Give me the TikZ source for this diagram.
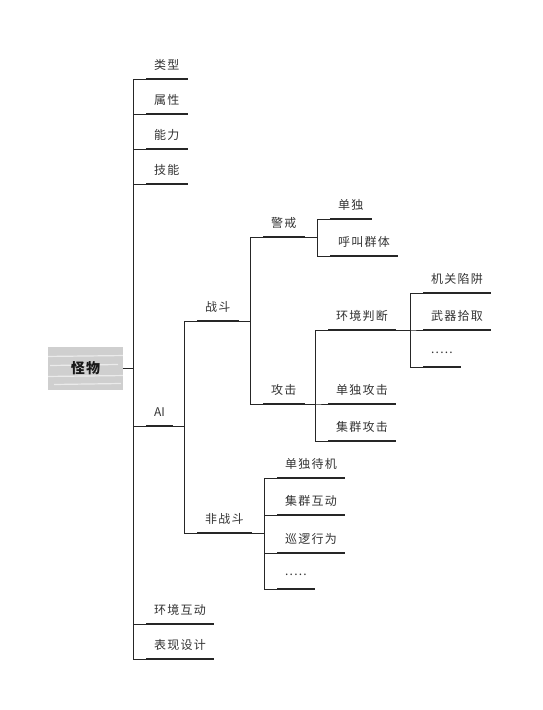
\documentclass[tikz,border=0pt]{standalone}
\usepackage{fontspec}
\newfontfamily\cjk[LetterSpace=10]{Noto Sans CJK SC}
\newfontfamily\cjkplain{Noto Sans CJK SC}
\newfontfamily\cjkroot[LetterSpace=8]{Noto Sans CJK SC}
\newcommand\moredots{.....}
\newcommand\ailabel{{\cjkplain AI}}

\tikzset{
  topic/.style={anchor=south west, minimum height=27pt, inner xsep=8pt, inner ysep=0pt,
    font=\cjk\fontsize{12}{14}\selectfont, text=black!80},
  root/.style={minimum width=75pt, minimum height=43pt, fill=black!19,
    font=\cjkroot\bfseries\fontsize{14}{16}\selectfont, text=black!90,
    path picture={
      \foreach \o/\l/\r in {-16/6/-2, -8/-3/4, 3/2/-5, 12/-4/3}
        \draw[white, opacity=0.6, line width=1.2pt] ([xshift=\l pt, yshift=\o pt]path picture bounding box.west) -- ([xshift=\r pt, yshift=\o pt+1pt]path picture bounding box.east);
    }},
  branch/.style={draw=black!85, line width=0.75pt},
  underline/.style={draw=black!85, line width=1.2pt}
}

\begin{document}
\begin{tikzpicture}[x=1pt, y=-1pt]
\useasboundingbox (0,0) rectangle (542,710);

% central topic
\node[root] (root) at (85.5,368.5) {怪物};

% main branches
\foreach \n/\t/\y in {type/类型/79, attr/属性/114, abil/能力/149, skill/技能/184,
                      ai/\ailabel/426, env/环境互动/624, show/表现设计/659}
  \node[topic] (\n) at (146,\y) {\t};

% AI
\foreach \n/\t/\y in {fight/战斗/321, calm/非战斗/533}
  \node[topic] (\n) at (197,\y) {\t};

% fight
\foreach \n/\t/\y in {alert/警戒/237, attack/攻击/404}
  \node[topic] (\n) at (263,\y) {\t};

% alert
\foreach \n/\t/\y in {alone/单独/219, call/呼叫群体/256}
  \node[topic] (\n) at (330,\y) {\t};

% attack
\foreach \n/\t/\y in {judge/环境判断/330, solo/单独攻击/404, group/集群攻击/441}
  \node[topic] (\n) at (328,\y) {\t};

% judge
\foreach \n/\t/\y in {trap/机关陷阱/293, weapon/武器拾取/330, more1/\moredots/367}
  \node[topic] (\n) at (423,\y) {\t};

% non-fight
\foreach \n/\t/\y in {idle/单独待机/478, social/集群互动/515, patrol/巡逻行为/553, more2/\moredots/589}
  \node[topic] (\n) at (277,\y) {\t};

% underlines
\foreach \n in {type,attr,abil,skill,ai,env,show,fight,calm,alert,attack,alone,call,
                judge,solo,group,trap,weapon,more1,idle,social,patrol,more2}
  \draw[underline] (\n.south west) -- (\n.south east);

% lines from root
\foreach \n in {type,attr,abil,skill,ai,env,show}
  \draw[branch] (root.east) -| ([xshift=-13pt]\n.south west) -- (\n.south west);

% lines between topics
\foreach \p/\c in {ai/fight, ai/calm, fight/alert, fight/attack, alert/alone, alert/call,
                   attack/judge, attack/solo, attack/group, judge/trap, judge/weapon, judge/more1,
                   calm/idle, calm/social, calm/patrol, calm/more2}
  \draw[branch] (\p.south east) -| ([xshift=-13pt]\c.south west) -- (\c.south west);

\end{tikzpicture}
\end{document}
